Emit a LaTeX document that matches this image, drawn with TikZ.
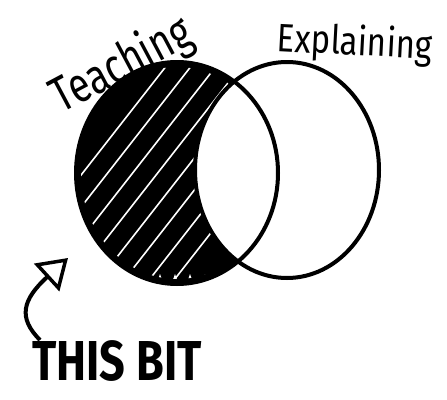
\documentclass[tikz,border=0pt]{standalone}
\usepackage{fontspec}
\setmainfont{Fira Sans}
\usetikzlibrary{arrows.meta}
\begin{document}
\begin{tikzpicture}[x=1pt,y=-1pt,
  outline/.style={line width=4pt,black},
  streak/.style={white,line width=1.6pt,line cap=round},
  label/.style={inner sep=0pt}]
\useasboundingbox (0,0) rectangle (447,399);
% left set (Teaching): black fill with white streaks
\fill[black] (177,173) ellipse [x radius=101,y radius=111];
\begin{scope}
  \clip (177,173) ellipse [x radius=96,y radius=106];
  \foreach \s in {-40,-15,10,35,60,85,110,135}
    \draw[streak] (\s,330) -- ++({cos(52)*400},{-sin(52)*400});
  \foreach \x in {125,140,155,170,185,200}
    \fill[white] (\x,288) -- ++(5,-14) -- ++(5,14) -- cycle;
\end{scope}
% right set (Explaining)
\fill[white] (287,170) ellipse [x radius=92,y radius=108];
\draw[outline] (177,173) ellipse [x radius=101,y radius=111];
\draw[outline] (287,170) ellipse [x radius=92,y radius=108];
% labels
\node[label,rotate=28] (teach) at (122,66) {\fontsize{38}{38}\selectfont\scalebox{1}[1.3]{Teaching}};
\node[label,rotate=-3] (expl) at (355,44) {\fontsize{33}{33}\selectfont\scalebox{1}[1.2]{Explaining}};
\node[label] (bit) at (117,361) {\fontsize{45}{45}\selectfont\bfseries\scalebox{1}[1.25]{THIS BIT}};
\coordinate (tail) at (40,340);
\coordinate (tip) at (68,258);
\draw[line width=4pt,-{Triangle[open,length=29pt,width=37pt,line width=3.5pt]}]
  (tail) .. controls (18,318) and (22,300) .. (tip);
\end{tikzpicture}
\end{document}
